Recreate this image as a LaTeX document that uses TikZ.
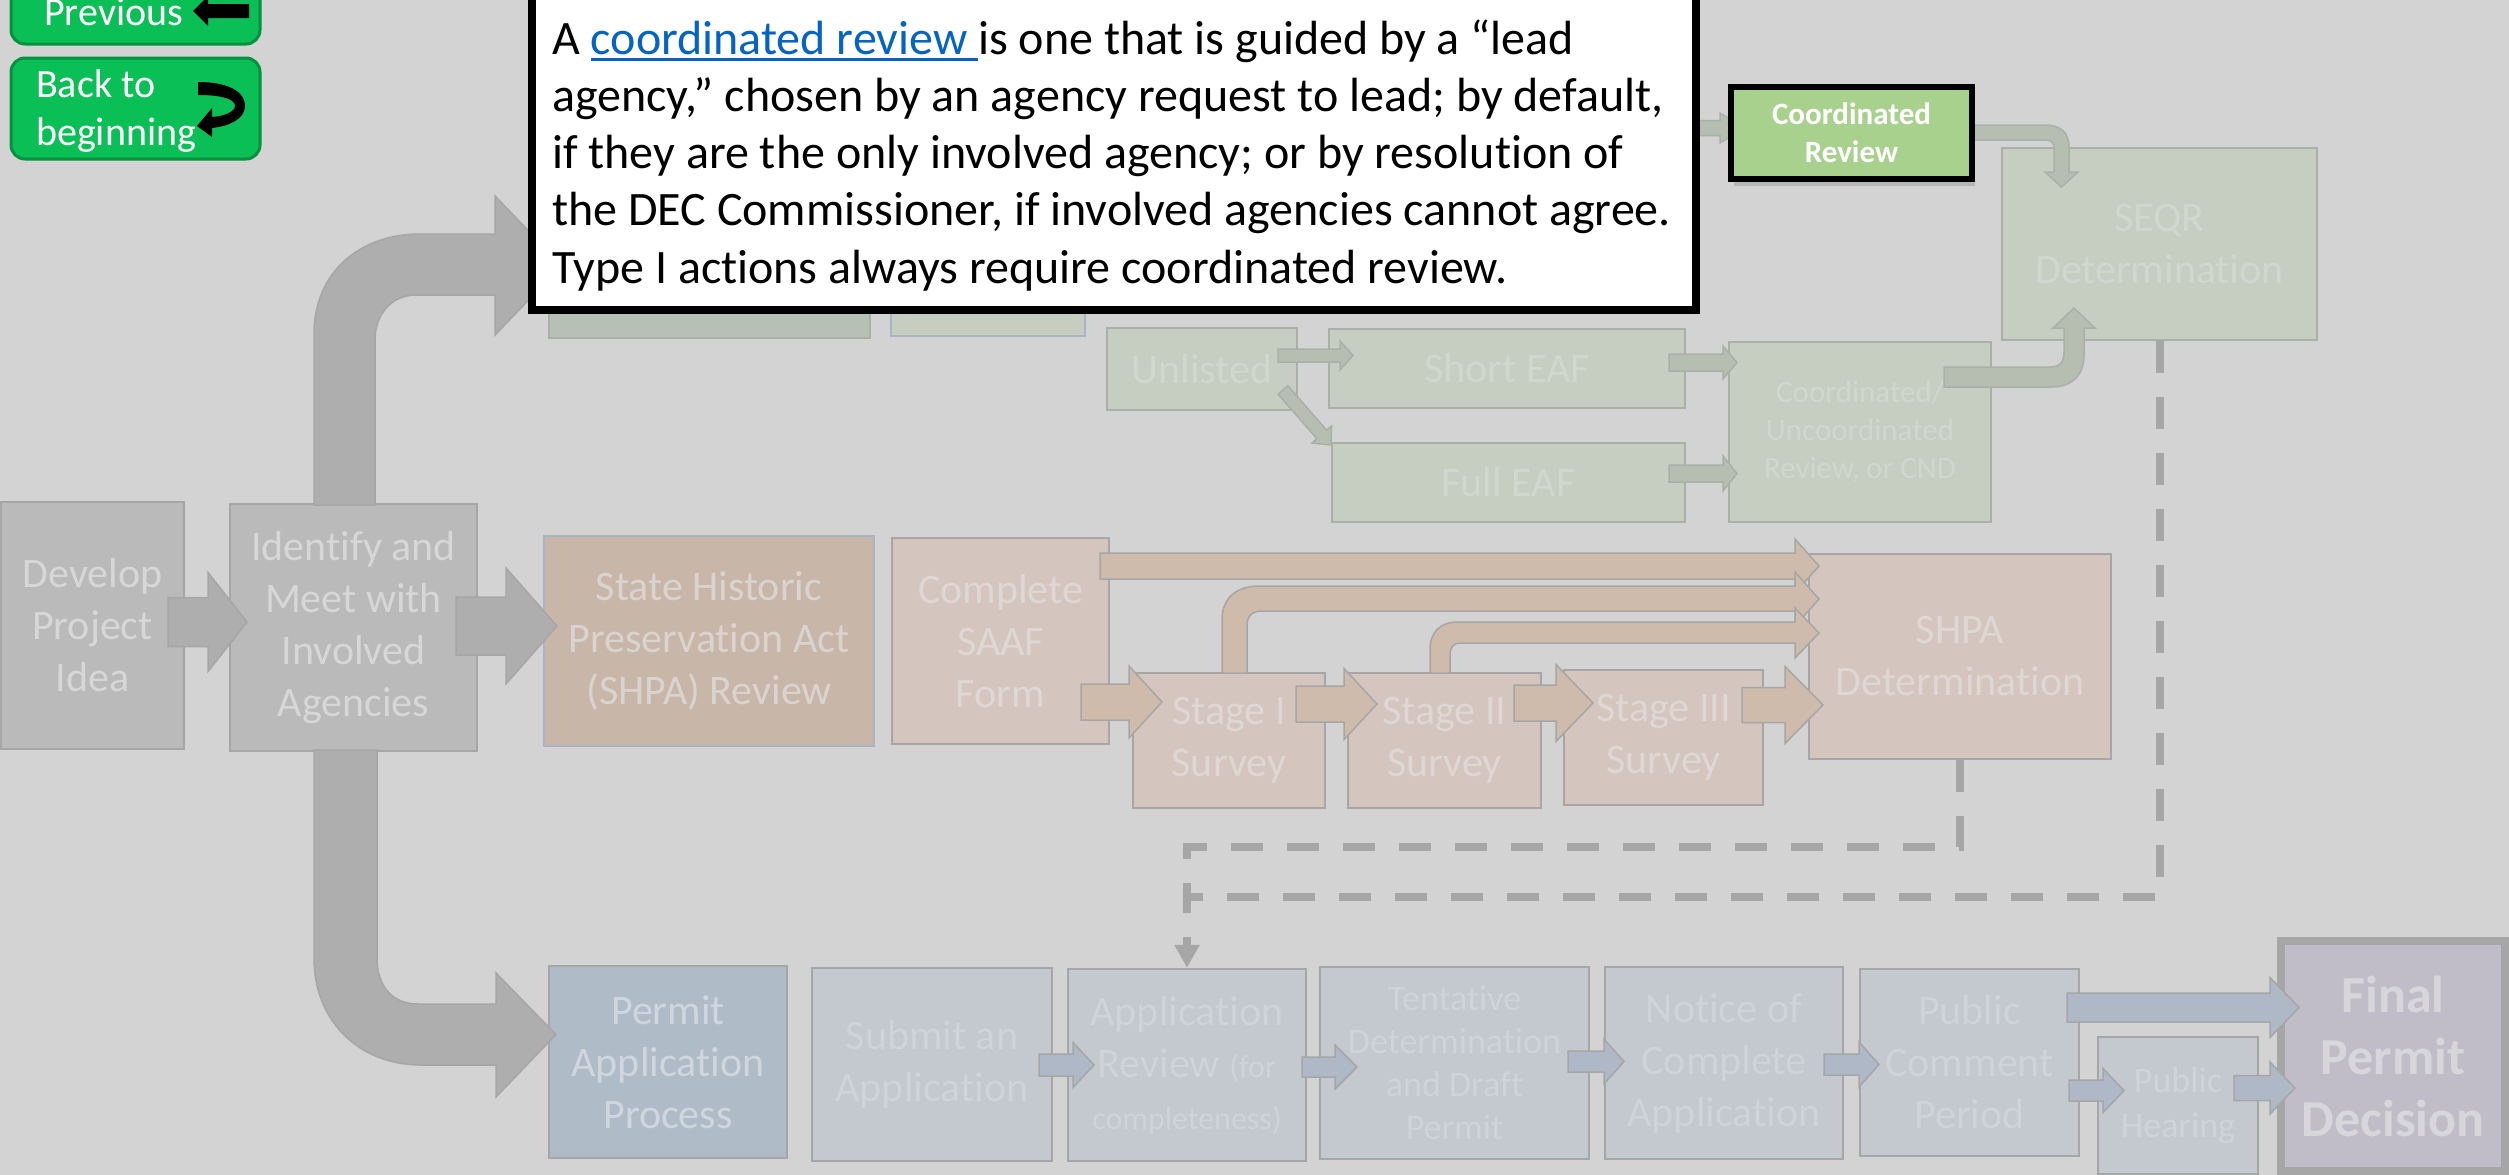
\documentclass[tikz,border=0pt]{standalone}
\usepackage{fontspec}
\setmainfont{Carlito}[Ligatures=NoCommon]
\usetikzlibrary{arrows.meta,shadows}
\definecolor{bg}{HTML}{D3D3D3}
\definecolor{grayfill}{HTML}{BABABA}
\definecolor{grayarrow}{HTML}{AEAEAE}
\definecolor{edge}{HTML}{A6A6A6}
\definecolor{shpafill}{HTML}{C8B6A8}
\definecolor{shpaedge}{HTML}{A9B3C3}
\definecolor{tanfill}{HTML}{D4C6BE}
\definecolor{tanarrow}{HTML}{CFBBAC}
\definecolor{greenfill}{HTML}{C5CEC1}
\definecolor{greenedge}{HTML}{AAB0A8}
\definecolor{greendark}{HTML}{B7C0B4}
\definecolor{greenarrow}{HTML}{B5BEB0}
\definecolor{pafill}{HTML}{B0BBC8}
\definecolor{bluefill}{HTML}{C4C8CF}
\definecolor{bluearrow}{HTML}{AFB8C6}
\definecolor{finalfill}{HTML}{C0BDC8}
\definecolor{crgreen}{HTML}{A9D18E}
\definecolor{btngreen}{HTML}{0ABF55}
\definecolor{btndark}{HTML}{07913F}
\definecolor{linkblue}{HTML}{0563C1}
\definecolor{graytxt}{HTML}{D7D7D7}
\definecolor{shpatxt}{HTML}{DAD4D0}
\definecolor{tantxt}{HTML}{DED7D3}
\definecolor{greentxt}{HTML}{D1D7CE}
\definecolor{patxt}{HTML}{D0D6DD}
\definecolor{bluetxt}{HTML}{D0D3D8}
\definecolor{finaltxt}{HTML}{D7D6DA}

\newcommand\fs[2]{\fontsize{#1pt}{#2pt}\selectfont}
\newsavebox\ulbox
\newcommand\ulk[1]{\sbox\ulbox{\color{linkblue}#1}\rlap{\color{linkblue}\rule[-7pt]{\wd\ulbox}{3pt}}\usebox\ulbox}
\newcommand\harr[7]{\filldraw[#1] ({#2},{#5-#6}) -- ({#3},{#5-#6}) -- ({#3},{#5-#7}) -- ({#4},{#5}) -- ({#3},{#5+#7}) -- ({#3},{#5+#6}) -- ({#2},{#5+#6}) -- cycle;}
\newcommand\bx[7]{\node[#6, minimum width={#4-#2}, minimum height={#5-#3}] (#1) at ({(#2+#4)/2},{(#3+#5)/2}) {#7};}

\tikzset{
  basebox/.style={rectangle, line width=2.5pt, inner sep=0pt, align=center, font=\fs{42}{52}},
  grayb/.style={basebox, draw=edge, fill=grayfill, text=graytxt},
  shpab/.style={basebox, draw=shpaedge, fill=shpafill, text=shpatxt},
  tanb/.style={basebox, draw=edge, fill=tanfill, text=tantxt},
  greenb/.style={basebox, draw=greenedge, fill=greenfill, text=greentxt},
  pab/.style={basebox, draw=edge, fill=pafill, text=patxt},
  blueb/.style={basebox, draw=edge, fill=bluefill, text=bluetxt},
  finalb/.style={basebox, draw=edge, line width=8pt, fill=finalfill, text=finaltxt, font=\bfseries\fs{52}{62}},
  garr/.style={fill=grayarrow, draw=edge, line width=1.5pt},
  tarr/.style={fill=tanarrow, draw=edge, line width=1.5pt},
  grarr/.style={fill=greenarrow, draw=greenedge, line width=1.5pt},
  barr/.style={fill=bluearrow, draw=edge, line width=1.5pt},
  dashline/.style={draw=edge, line width=8pt, dash pattern=on 32pt off 24pt},
  btn/.style={rectangle, rounded corners=14pt, fill=btngreen, draw=btndark, line width=3pt, inner sep=0pt},
  btntxt/.style={anchor=base west, inner sep=0pt, text=white, font=\fs{40}{48}},
  tbline/.style={anchor=base west, inner sep=0pt, text=black, font=\fs{48}{57}},
}

\begin{document}
\begin{tikzpicture}[x=1pt,y=-1pt]
\useasboundingbox (0,0) rectangle (2509,1175);
\fill[bg] (0,0) rectangle (2509,1175);

% ---- boxes ----
\bx{develop}{1}{502}{184}{749}{grayb}{Develop\\Project\\Idea}
\bx{identify}{230}{504}{477}{751}{grayb}{Identify and\\Meet with\\Involved\\Agencies}
\bx{shpa}{544}{536}{874}{746}{shpab}{State Historic\\Preservation Act\\(SHPA) Review}
\bx{saaf}{892}{538}{1109}{744}{tanb}{Complete\\SAAF\\Form}
\bx{st1}{1133}{673}{1325}{808}{tanb}{Stage I\\Survey}
\bx{st2}{1348}{673}{1541}{808}{tanb}{Stage II\\Survey}
\bx{st3}{1564}{670}{1763}{805}{tanb}{Stage III\\Survey}
\bx{shpadet}{1809}{554}{2111}{759}{tanb}{SHPA\\Determination}
\bx{hid1}{549}{230}{870}{338}{greenb,fill=greendark}{}
\bx{hid2}{891}{230}{1085}{336}{greenb,draw=shpaedge}{}
\bx{unlisted}{1107}{328}{1297}{410}{greenb}{Unlisted}
\bx{short}{1329}{329}{1685}{408}{greenb}{Short EAF}
\bx{full}{1332}{443}{1685}{522}{greenb}{Full EAF}
\bx{coord}{1729}{342}{1991}{522}{greenb,font=\fs{31}{38}}{Coordinated/\\Uncoordinated\\Review, or CND}
\bx{seqr}{2002}{148}{2317}{340}{greenb}{SEQR\\Determination}
\bx{pap}{549}{966}{787}{1158}{pab}{Permit\\Application\\Process}
\bx{submit}{812}{968}{1052}{1161}{blueb}{Submit an\\Application}
\bx{apprev}{1068}{969}{1306}{1161}{blueb}{Application\\Review {\fs{32}{44}(for}\\{\fs{32}{44}completeness)}}
\bx{tent}{1320}{967}{1589}{1159}{blueb,font=\fs{36}{43}}{Tentative\\Determination\\and Draft\\Permit}
\bx{notice}{1605}{967}{1843}{1159}{blueb}{Notice of\\Complete\\Application}
\bx{pubcom}{1860}{969}{2079}{1156}{blueb}{Public\\Comment\\Period}
\bx{hearing}{2098}{1037}{2258}{1174}{blueb,font=\fs{36}{45}}{Public\\Hearing}
\bx{final}{2281}{941}{2505}{1171}{finalb}{Final\\Permit\\Decision}

% ---- gray block arrows ----
\harr{garr}{168}{208}{247}{622}{24.5}{49.5}
\harr{garr}{456}{506}{557}{626}{29}{58}
\filldraw[garr] (314,505) -- (314,334) .. controls (314,272) and (360,234) .. (420,234) -- (495,234) -- (495,196) -- (562,265.5) -- (495,335) -- (495,295) -- (416,295) .. controls (392,295) and (375,314) .. (375,340) -- (375,505) -- cycle;
\filldraw[garr] (314,750) -- (314,958) .. controls (314,1022) and (360,1065) .. (421,1065) -- (496,1065) -- (496,1097) -- (556,1034.5) -- (496,973) -- (496,1004) -- (418,1004) .. controls (392,1004) and (377,986) .. (377,958) -- (377,750) -- cycle;

% ---- SHPA arrows ----
\harr{tarr}{1081}{1129}{1162}{702}{18}{36}
\harr{tarr}{1296}{1344}{1377}{704}{18}{35.5}
\harr{tarr}{1514}{1556}{1593}{703}{18}{38.5}
\harr{tarr}{1742}{1785}{1823}{705}{17.5}{38.5}
\harr{tarr}{1100}{1795}{1819}{566}{13}{27}
\filldraw[tarr] (1222,673) -- (1222,620) .. controls (1222,598) and (1236,586) .. (1260,586) -- (1795,586) -- (1795,572) -- (1819,599) -- (1795,626) -- (1795,611) -- (1262,611) .. controls (1252,611) and (1247,616) .. (1247,626) -- (1247,673) -- cycle;
\filldraw[tarr] (1430,673) -- (1430,650) .. controls (1430,632) and (1440,622) .. (1458,622) -- (1795,622) -- (1795,608) -- (1819,633) -- (1795,658) -- (1795,643) -- (1460,643) .. controls (1453,643) and (1450,648) .. (1450,655) -- (1450,673) -- cycle;

% ---- SEQR arrows ----
\harr{grarr}{1278}{1340}{1353}{355.5}{6.5}{14.5}
\begin{scope}[shift={(1283,390)},rotate=-48.9]
\harr{grarr}{0}{59}{73}{0}{6.5}{13}
\end{scope}
\harr{grarr}{1669}{1723}{1737}{362.5}{8.5}{16.5}
\harr{grarr}{1669}{1723}{1737}{473.5}{8.5}{17.5}
\filldraw[grarr] (1944,367) -- (2050,367) .. controls (2060,367) and (2064,362) .. (2064,352) -- (2064,328) -- (2053,328) -- (2074,308) -- (2095,328) -- (2084,328) -- (2084,355) .. controls (2084,375) and (2072,387) .. (2052,387) -- (1944,387) -- cycle;
\filldraw[grarr] (1965,125) -- (2045,125) .. controls (2060,125) and (2069,132) .. (2069,147) -- (2069,172) -- (2078,172) -- (2061.5,187) -- (2045,172) -- (2054,172) -- (2054,148) .. controls (2054,143) and (2051,140) .. (2046,140) -- (1965,140) -- cycle;
\harr{grarr}{1650}{1720}{1745}{128}{7.5}{15}

% ---- permit arrows ----
\harr{barr}{1039}{1073}{1094}{1065}{11}{22.5}
\harr{barr}{1302}{1335}{1357}{1067}{10}{22}
\harr{barr}{1568}{1604}{1624}{1061.5}{10.5}{22.5}
\harr{barr}{1824}{1859}{1879}{1064.5}{10.5}{22.5}
\harr{barr}{2067}{2270}{2299}{1007.5}{14.5}{30}
\harr{barr}{2069}{2103}{2124}{1090.5}{10.5}{22}
\harr{barr}{2234}{2270}{2295}{1088}{12.5}{26}

% ---- dashed connectors ----
\draw[dashline] (shpadet.south) -- (shpadet.south |- 0,847) -- (apprev.north |- 0,847) -- (apprev.north |- 0,897);
\draw[dashline,-{Triangle[width=24pt,length=23pt]}] (seqr.south) -- (seqr.south |- 0,897) -- (apprev.north |- 0,897) -- (apprev.north);

% ---- coordinated review box ----
\node[rectangle, draw=black, line width=6.5pt, fill=crgreen, minimum width=241, minimum height=92, inner sep=0pt, align=center, text=white, font=\bfseries\fs{31}{38}, drop shadow={shadow xshift=3pt, shadow yshift=-7pt, opacity=0.35}] (cr) at (1851.5,133) {Coordinated\\Review};

% ---- text box ----
\node[rectangle, draw=black, line width=8pt, fill=white, minimum width=1164, minimum height=314, inner sep=0pt, drop shadow={shadow xshift=3pt, shadow yshift=-3pt, opacity=0.6}] (tb) at (1114,153) {};
\node[tbline] (tl1) at (552,54) {A \ulk{coordinated review }is one that is guided by a “lead};
\node[tbline] (tl2) at (552,111) {agency,” chosen by an agency request to lead; by default,};
\node[tbline] (tl3) at (552,168) {if they are the only involved agency; or by resolution of};
\node[tbline] (tl4) at (552,225) {the DEC Commissioner, if involved agencies cannot agree.};
\node[tbline] (tl5) at (552,283) {Type I actions always require coordinated review.};

% ---- buttons ----
\node[btn, minimum width=249, minimum height=90] (prev) at (135.5,-1) {};
\node[btntxt] (prevtxt) at (44,25) {Previous};
\fill[black] (193,11) -- (208,-4) -- (208,4) -- (249,4) -- (249,18) -- (208,18) -- (208,26) -- cycle;
\node[btn, minimum width=249, minimum height=101] (back) at (135.5,108.5) {};
\node[btntxt] (backtxt1) at (36,97) {Back to};
\node[btntxt] (backtxt2) at (36,145) {beginning};
\fill[black] (198,82) .. controls (232,82) and (246,94) .. (245,107) .. controls (244,119) and (230,126) .. (212,128) -- (212,137) -- (197,126) -- (212,108) -- (212,117) .. controls (226,116) and (235,111) .. (235,106) .. controls (235,99) and (222,95) .. (198,95) -- cycle;
\end{tikzpicture}
\end{document}
